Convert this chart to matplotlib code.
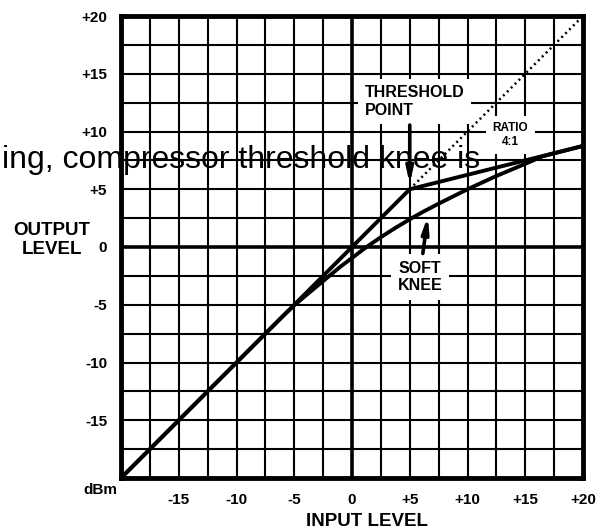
import matplotlib.pyplot as plt
import numpy as np

plt.rcParams['font.family'] = ['Liberation Sans', 'DejaVu Sans']

# input / output levels in dBm
hard_in = [-20, 5, 20]
hard_out = [-20, 5, 8.75]

unity_in = [5, 20]
unity_out = [5, 20]

soft_in = [-20, -6, -5, -4, -2.5, -1, 0, 1.25, 2.5, 3.75, 5, 6.25, 7.5, 10, 12.5, 15, 16.5, 20]
soft_out = [-20, -6, -5.05, -4.2, -2.95, -1.7, -0.95, 0.0, 0.85, 1.65, 2.4, 3.1, 3.75, 5.0, 6.15, 7.2, 7.85, 8.75]

x_ticks = [-15, -10, -5, 0, 5, 10, 15, 20]
x_labels = ["-15", "-10", "-5", "0", "+5", "+10", "+15", "+20"]
y_ticks = [-15, -10, -5, 0, 5, 10, 15, 20]
y_labels = ["-15", "-10", "-5", "0", "+5", "+10", "+15", "+20"]
grid_steps = np.arange(-17.5, 20, 2.5)

fig = plt.figure(figsize=(6.02, 5.29), dpi=100)
ax = fig.add_axes([121 / 602, 1 - 478 / 529, 462 / 602, 462 / 529])
ax.set_xlim(-20, 20)
ax.set_ylim(-20, 20)

# grid, every 2.5 dBm, zero lines heavier
for g in grid_steps:
    lw = 2.6 if g == 0 else 1.5
    ax.axvline(g, color="black", lw=lw, zorder=1)
    ax.axhline(g, color="black", lw=lw, zorder=1)

for s in ax.spines.values():
    s.set_linewidth(3.5)

ax.set_xticks(x_ticks)
ax.set_xticklabels(x_labels)
ax.set_yticks(y_ticks)
ax.set_yticklabels(y_labels)
ax.tick_params(length=0, labelsize=11)
ax.tick_params(axis="x", pad=11)
ax.tick_params(axis="y", pad=10)
for lab in ax.get_xticklabels() + ax.get_yticklabels():
    lab.set_fontweight("bold")

# curves
ax.plot(hard_in, hard_out, color="black", lw=2.8, zorder=3, solid_capstyle="butt")
ax.plot(soft_in, soft_out, color="black", lw=2.8, zorder=3, solid_joinstyle="round")
ax.plot(unity_in, unity_out, color="black", lw=1.8, ls=(0, (0.8, 1.4)), zorder=3)

box = dict(facecolor="white", edgecolor="none", boxstyle="square,pad=0.4")
ax.text(5.4, 12.6, "THRESHOLD\nPOINT", fontsize=11.5, fontweight="bold",
        ha="center", va="center", multialignment="left", bbox=box, zorder=2)
ax.text(13.7, 9.7, "RATIO\n4:1", fontsize=8.5, fontweight="bold",
        ha="center", va="center", bbox=dict(facecolor="white", edgecolor="none",
                                            boxstyle="square,pad=0.55"), zorder=2)
ax.text(5.9, -2.6, "SOFT\nKNEE", fontsize=11.5, fontweight="bold",
        ha="center", va="center", bbox=box, zorder=2)

ax.annotate("", xy=(5, 5.2), xytext=(5, 10.8),
            arrowprops=dict(arrowstyle="->,head_length=0.9,head_width=0.2",
                            color="black", lw=2.6), zorder=4)
ax.annotate("", xy=(6.6, 2.9), xytext=(6.1, -0.8),
            arrowprops=dict(arrowstyle="-|>,head_length=0.9,head_width=0.2",
                            color="black", lw=2.6), zorder=4)

fig.text(100 / 602, 1 - 490 / 529, "dBm", fontsize=11, fontweight="bold",
         ha="center", va="center")
fig.text(52 / 602, 1 - 240 / 529, "OUTPUT\nLEVEL", fontsize=13.5, fontweight="bold",
         ha="center", va="center", linespacing=1.1)
fig.text(367 / 602, 1 - 521 / 529, "INPUT LEVEL", fontsize=13.5, fontweight="bold",
         ha="center", va="center")

# stray caption text lying over the figure
fig.text(2 / 602, 1 - 168 / 529, "ing, compressor threshold knee is", fontsize=23,
         ha="left", va="baseline", zorder=10)

fig.savefig("out.png", dpi=100)
